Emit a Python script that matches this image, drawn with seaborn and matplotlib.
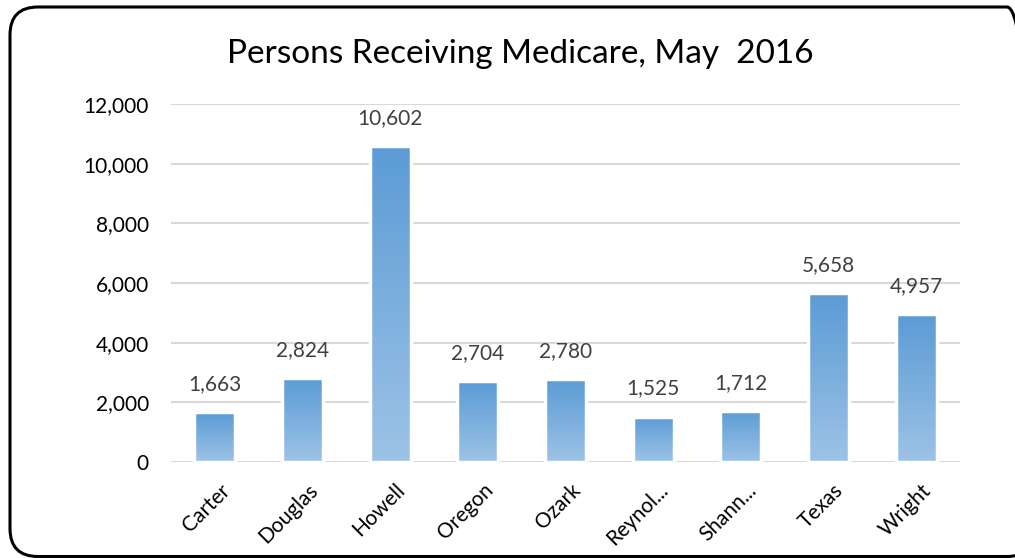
import numpy as np
import seaborn as sns
import matplotlib.pyplot as plt
from matplotlib.patches import FancyBboxPatch
from matplotlib.colors import LinearSegmentedColormap
from matplotlib.ticker import FuncFormatter
import matplotlib.transforms as mtransforms

counties = ["Carter", "Douglas", "Howell", "Oregon", "Ozark",
            "Reynol...", "Shann...", "Texas", "Wright"]
persons = [1663, 2824, 10602, 2704, 2780, 1525, 1712, 5658, 4957]
y_ticks = [0, 2000, 4000, 6000, 8000, 10000, 12000]

sns.set_theme(style="white")
plt.rcParams['font.family'] = ['Lato', 'DejaVu Sans']

fig = plt.figure(figsize=(10.15, 5.58), dpi=100)
ax = fig.add_axes([171 / 1015, 1 - 462 / 558, (960 - 171) / 1015, (462 - 104) / 558])

sns.barplot(x=counties, y=persons, color="#5B9BD5", width=0.47, ax=ax, zorder=2)

ax.set_ylim(0, 12000)
ax.set_yticks(y_ticks)
ax.yaxis.set_major_formatter(FuncFormatter(lambda v, p: f"{int(v):,}"))
ax.grid(axis="y", color="#D9D9D9", linewidth=1.5, zorder=0)
ax.set_axisbelow(True)
for s in ax.spines.values():
    s.set_visible(False)
ax.tick_params(axis="y", length=0, pad=16, labelsize=15, labelcolor="black")
ax.tick_params(axis="x", length=0, pad=13, labelsize=15, labelcolor="black")
xlim = ax.get_xlim()

# gradient fill for each bar (darker at top, lighter at bottom)
cmap = LinearSegmentedColormap.from_list("bar", ["#9DC3E6", "#5B9BD5"])
grad = np.linspace(0, 1, 256).reshape(-1, 1)
for bar, val in zip(ax.patches, persons):
    x0, w = bar.get_x(), bar.get_width()
    h = bar.get_height()
    im = ax.imshow(grad, extent=[x0, x0 + w, 0, h], origin="lower",
                   aspect="auto", cmap=cmap, zorder=2.5)
    im.set_clip_path(bar)
    bar.set_facecolor("none")
    bar.set_edgecolor("white")
    bar.set_linewidth(2.5)
    bar.set_zorder(3)
    ax.annotate(f"{val:,}", (x0 + w / 2, h), xytext=(0, 13),
                textcoords="offset points", ha="center", va="bottom",
                fontsize=15, color="#404040")

ax.set_xlim(xlim)
ax.set_ylim(0, 12000)

# rotated category labels
offset = mtransforms.ScaledTranslation(5 / 100, 0, fig.dpi_scale_trans)
for lab in ax.get_xticklabels():
    lab.set_rotation(45)
    lab.set_ha("right")
    lab.set_va("top")
    lab.set_rotation_mode("anchor")
    lab.set_transform(lab.get_transform() + offset)

fig.text(520 / 1015, 1 - 63 / 558, "Persons Receiving Medicare, May  2016",
         ha="center", va="baseline", fontsize=24, color="black")

frame = FancyBboxPatch((10, 1.5), 1025, 549.5,
                       boxstyle="round,pad=0,rounding_size=28",
                       transform=None, fill=False, edgecolor="black",
                       linewidth=2.2)
fig.patches.append(frame)

fig.savefig("out.png", dpi=100)
